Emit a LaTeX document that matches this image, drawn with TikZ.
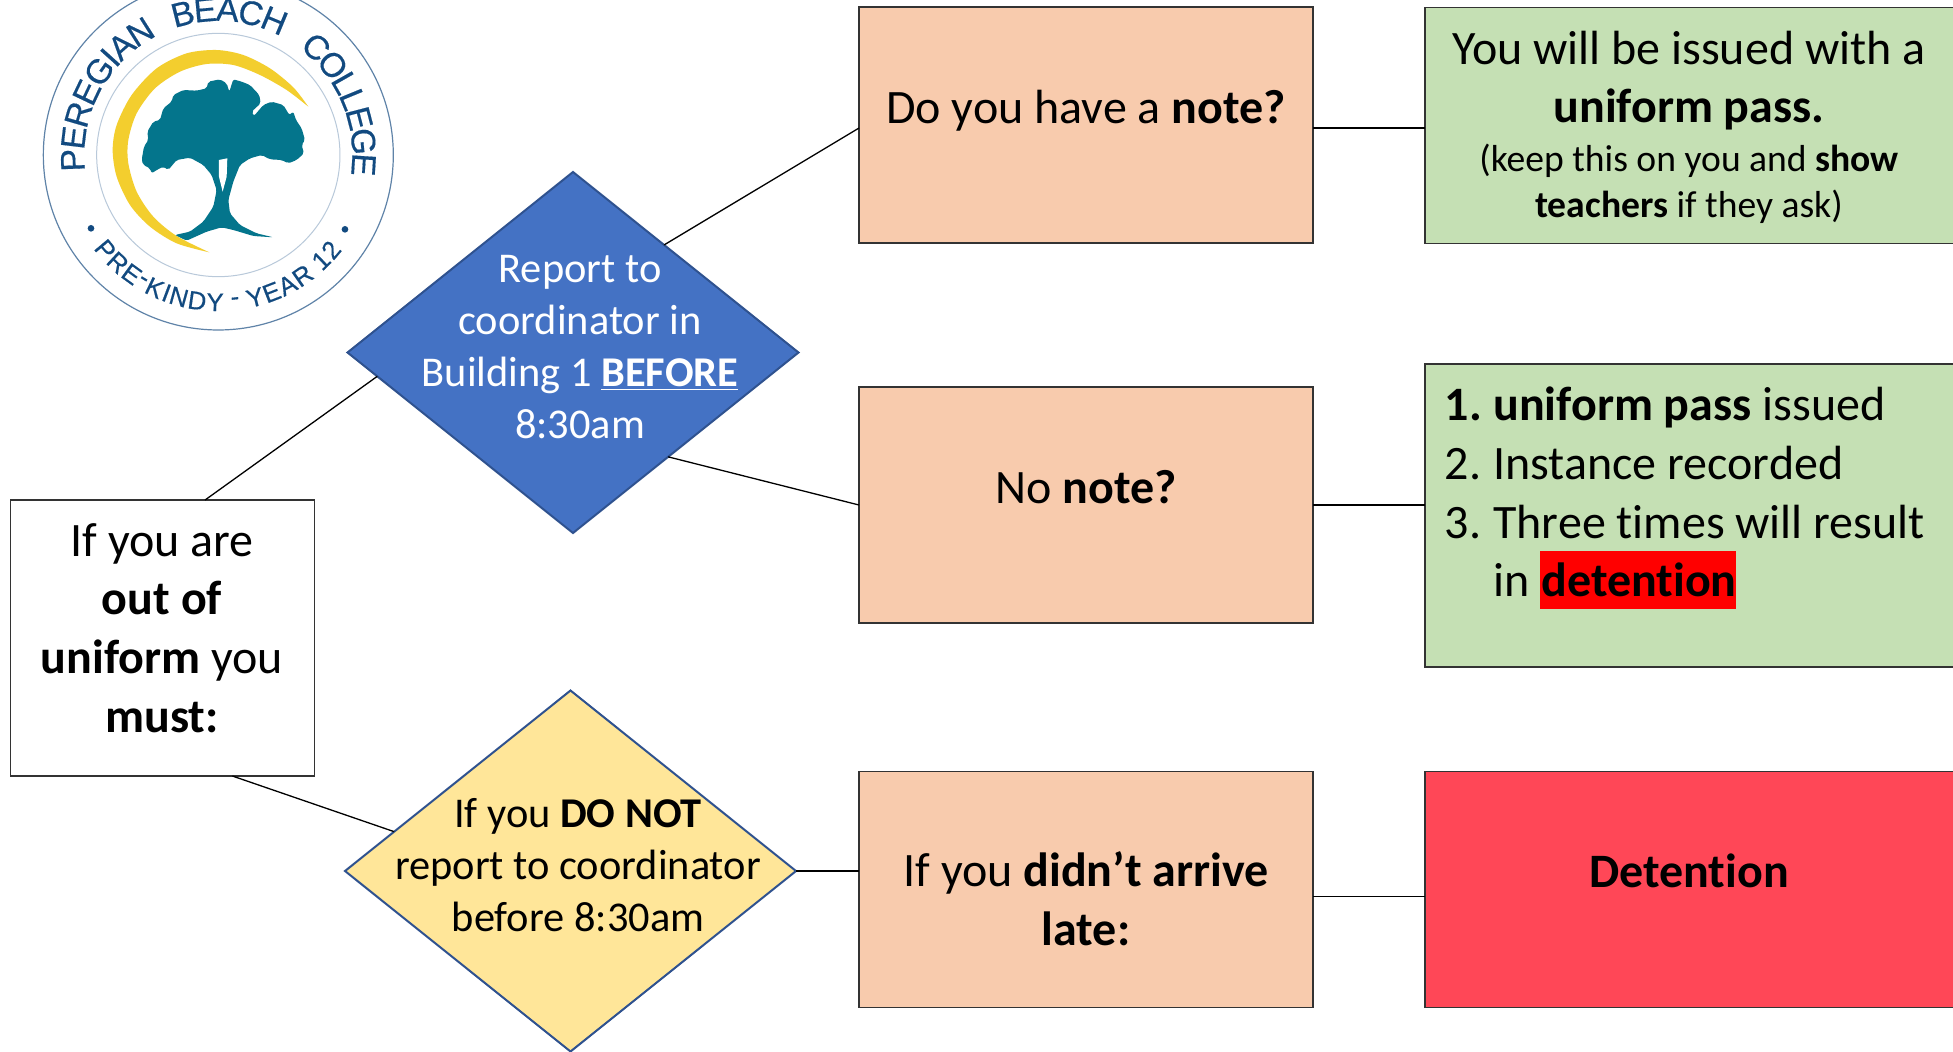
\documentclass[tikz,border=0pt]{standalone}
\usepackage{fontspec}
\setmainfont[Ligatures=NoCommon]{Carlito}
\newfontfamily\logofont[FakeBold=0.4]{Liberation Sans}
\usetikzlibrary{shapes.geometric,calc}
\definecolor{boxorange}{HTML}{F8CBAD}
\definecolor{boxgreen}{HTML}{C5E0B4}
\definecolor{boxred}{HTML}{FF4757}
\definecolor{diablue}{HTML}{4472C4}
\definecolor{diayellow}{HTML}{FFE699}
\definecolor{diaedge}{HTML}{2F528F}
\definecolor{logoteal}{HTML}{04758C}
\definecolor{logogold}{HTML}{F3CE2E}
\definecolor{logoblue}{HTML}{124A80}
\definecolor{logoring}{HTML}{5F83A8}
\definecolor{logoinner}{HTML}{B9C9DA}
\newcommand{\bigtxt}{\fontsize{24}{29.3}\selectfont}
\newcommand{\midtxt}{\fontsize{21.2}{25.9}\selectfont}
\newcommand{\smalltxt}{\fontsize{18.8}{23}\selectfont}
\tikzset{
  box/.style={draw=black!80,line width=.7pt,rectangle,inner sep=0,outer sep=0},
  orangebox/.style={box,fill=boxorange,minimum width=227pt,minimum height=118pt},
  dia/.style={diamond,draw=diaedge,line width=1pt,inner sep=0,outer sep=0,shape aspect=1.25,minimum width=225.5pt,minimum height=180.5pt},
  conn/.style={draw=black,line width=.65pt},
  label/.style={align=center,inner sep=0,font=\bigtxt},
  listline/.style={anchor=base west,inner sep=0,font=\bigtxt},
  logoletter/.style={inner sep=0,text=logoblue,font=\logofont\fontsize{#1}{#1}\selectfont},
}
\begin{document}
\begin{tikzpicture}[x=.5pt,y=-.5pt]
\useasboundingbox (0,0) rectangle (1953,1051);
\clip (0,0) rectangle (1953,1051);
% boxes
\node[box,fill=white,minimum width=152pt,minimum height=138pt] (white) at (162.5,638) {};
\node[dia,fill=diablue] (blue) at (573,352.5) {};
\node[dia,fill=diayellow] (yellow) at (570.5,871) {};
\node[orangebox] (note) at (1086,125) {};
\node[orangebox] (nonote) at (1086,505) {};
\node[orangebox] (late) at (1086,889.5) {};
\node[box,fill=boxgreen,minimum width=300pt,minimum height=118pt,anchor=north west] (pass) at (1425,7.5) {};
\node[box,fill=boxgreen,minimum width=300pt,minimum height=151.5pt,anchor=north west] (issue) at (1425,364) {};
\node[box,fill=boxred,minimum width=300pt,minimum height=118pt,anchor=north west] (det) at (1425,771.5) {};
% connectors
\draw[conn] ($(white.north west)!.64!(white.north east)$) -- ($(blue.west)!.132!(blue.south)$);
\draw[conn] ($(white.south west)!.73!(white.south east)$) -- ($(yellow.west)!.218!(yellow.north)$);
\draw[conn] ($(blue.north)!.404!(blue.east)$) -- ($(note.west)+(0,3)$);
\draw[conn] ($(blue.east)!.578!(blue.south)$) -- (nonote.west);
\draw[conn] (yellow.east) -- (yellow.east -| late.west);
\draw[conn] ($(note.east)+(0,3)$) -- ($(note.east)+(112,3)$);
\draw[conn] (nonote.east) -- (nonote.east -| issue.west);
\draw[conn] ($(late.east)+(0,7)$) -- ($(late.east)+(112,7)$);
% labels
\node[label] (tw) at (162,628) {If you are\\\textbf{out of}\\\textbf{uniform} you\\\textbf{must:}};
\node[label,font=\midtxt,text=white] (tb) at (580,347) {Report to\\coordinator in\\Building 1 \underline{\textbf{BEFORE}}\\8:30am};
\node[label,font=\midtxt] (ty) at (578,865) {If you \textbf{DO NOT}\\report to coordinator\\before 8:30am};
\node[label] (tn) at (1086,110.5) {Do you have a \textbf{note?}};
\node[label] (tnn) at (1086,487) {No \textbf{note?}};
\node[label] (tl) at (1086,898.5) {If you \textbf{didn’t arrive}\\\textbf{late:}};
\node[label] (tp) at (1689,80.5) {You will be issued with a\\\textbf{uniform pass.}};
\node[label,font=\smalltxt] (tps) at (1689,183.5) {(keep this on you and \textbf{show}\\\textbf{teachers} if they ask)};
\node[label] (td) at (1689,871) {\textbf{Detention}};
\node[listline] (l1a) at (1444.5,420) {\textbf{1.}};
\node[listline] (l1b) at (1493,420) {\textbf{uniform pass} issued};
\node[listline] (l2a) at (1444.5,479) {2.};
\node[listline] (l2b) at (1493,479) {Instance recorded};
\node[listline] (l3a) at (1444.5,538) {3.};
\node[listline] (l3b) at (1493,538) {Three times will result};
\node[listline] (l4a) at (1493,596) {in};
\fill[red] (1539.5,550.5) rectangle (1736,609);
\node[listline] (l4b) at (1541,596) {\textbf{detention}};
% logo: coordinates of the 3x crop
\begin{scope}[x=.5pt/3,y=-.5pt/3]
\fill[white] (655,465) circle [radius=525];
\draw[logoring,line width=.6pt] (655,465) circle [radius=525];
\draw[logoinner,line width=.5pt] (655,465) circle [radius=365];
\fill[logogold] plot[smooth] coordinates {(925,320) (880,262) (810,205) (730,165) (650,150) (560,160) (470,205) (395,285) (350,375) (338,450) (350,530) (390,615) (450,680) (530,730) (628,757)}
  -- plot[smooth] coordinates {(628,757) (530,708) (460,650) (410,575) (385,490) (385,420) (410,340) (465,265) (540,215) (620,192) (700,195) (780,225) (860,270) (925,320)} -- cycle;
\fill[logoteal,rounded corners=1pt] (425,480) -- (432,440) -- (445,420) -- (442,395) -- (460,365) -- (480,360) -- (490,325) -- (515,305) -- (520,285) -- (550,270) -- (590,272) -- (620,265) -- (625,245) -- (660,238) -- (680,250) -- (688,275) -- (700,238) -- (725,245) -- (750,255) -- (778,285) -- (782,310) -- (755,335) -- (762,348) -- (790,315) -- (815,305) -- (850,315) -- (868,345) -- (880,335) -- (888,360) -- (905,385) -- (915,420) -- (905,435) -- (912,460) -- (890,480) -- (865,490) -- (845,480) -- (810,478) -- (785,465) -- (750,475) -- (720,495) -- (700,545) -- (685,600) -- (690,640) -- (720,675) -- (770,700) -- (820,712) -- (760,708) -- (700,690) -- (665,682) -- (620,695) -- (560,722) -- (525,705) -- (570,695) -- (610,665) -- (640,620) -- (650,570) -- (635,525) -- (610,495) -- (570,473) -- (530,480) -- (505,510) -- (490,500) -- (470,510) -- (455,520) -- (450,505) -- (430,495) -- cycle;
\fill[white] (657,480) -- (682,475) -- (680,530) -- (668,575) -- (657,530) -- cycle;
\fill[logoblue] (273,685) circle [radius=10];
\fill[logoblue] (1035,688) circle [radius=10];
\foreach \ch/\ang [count=\i] in {P/182.05,E/173.15,R/163.85,E/154.55,G/144.95,I/137.95,A/131.65,N/122.35,B/104.15,E/95.25,A/86.35,C/77.05,H/67.35,C/47.75,O/38.15,L/29.6,L/22.4,E/14.55,G/5.35,E/-3.85}{
  \pgfmathsetmacro\px{655+437*cos(\ang)}
  \pgfmathsetmacro\py{465-437*sin(\ang)}
  \pgfmathsetmacro\rot{\ang-90}
  \node[logoletter=17,rotate=\rot] (up\i) at (\px,\py) {\ch};
}
\foreach \ch/\ang [count=\i] in {P/219.97,R/226.98,E/233.98,-/239.07,K/244.43,I/249.45,N/254.48,D/261.75,Y/268.75,-/276.62,Y/284.49,E/291.23,A/297.97,R/304.97,1/314.23,2/319.91}{
  \pgfmathsetmacro\px{655+442*cos(\ang)}
  \pgfmathsetmacro\py{465-442*sin(\ang)}
  \pgfmathsetmacro\rot{\ang+90}
  \node[logoletter=12.8,rotate=\rot] (lo\i) at (\px,\py) {\ch};
}
\end{scope}
\end{tikzpicture}
\end{document}
